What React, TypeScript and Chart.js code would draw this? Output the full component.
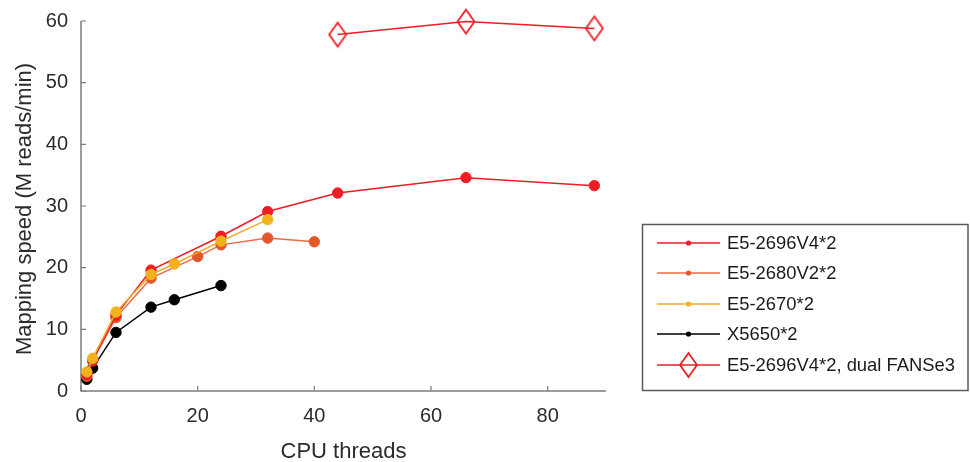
import React, { useEffect, useRef } from 'react';
import { Chart, registerables } from 'chart.js';

Chart.register(...registerables);

// ---- data ----
const threadsE5_2696V4 = [1, 2, 6, 12, 24, 32, 44, 66, 88];
const speedE5_2696V4 = [2.7, 5.0, 12.3, 19.6, 25.1, 29.1, 32.1, 34.6, 33.3];
const threadsE5_2680V2 = [1, 2, 6, 12, 20, 24, 32, 40];
const speedE5_2680V2 = [2.4, 4.9, 11.9, 18.3, 21.8, 23.7, 24.8, 24.2];
const threadsE5_2670 = [1, 2, 6, 12, 16, 24, 32];
const speedE5_2670 = [3.1, 5.3, 12.8, 18.9, 20.6, 24.3, 27.8];
const threadsX5650 = [1, 2, 6, 12, 16, 24];
const speedX5650 = [1.9, 3.7, 9.5, 13.6, 14.8, 17.1];
const threadsDual = [44, 66, 88];
const speedDual = [57.8, 59.9, 58.8];

const seriesLabels = ['E5-2696V4*2', 'E5-2680V2*2', 'E5-2670*2', 'X5650*2', 'E5-2696V4*2, dual FANSe3'];
const xTicks = [0, 20, 40, 60, 80];
const yTicks = [0, 10, 20, 30, 40, 50, 60];
const xTitle = 'CPU threads';
const yTitle = 'Mapping speed (M reads/min)';

const RED = '#ee1c24';
const ORANGE_LINE = '#ee6a40';
const ORANGE_PT = '#e2582a';
const YELLOW_LINE = '#efa92a';
const YELLOW_PT = '#f2b21c';
const BLACK = '#000000';
const AXIS = '#7c7c7c';
const TEXT = '#2b2b2b';
const FONT = "'Liberation Sans', Arial, Helvetica, sans-serif";

const toXY = (xs: number[], ys: number[]) => xs.map((x, i) => ({ x, y: ys[i] }));

function drawDiamond(ctx: CanvasRenderingContext2D, cx: number, cy: number, hw: number, hh: number, color: string) {
  ctx.save();
  ctx.strokeStyle = color;
  ctx.lineWidth = 1.8;
  ctx.beginPath();
  ctx.moveTo(cx, cy - hh);
  ctx.lineTo(cx + hw, cy);
  ctx.lineTo(cx, cy + hh);
  ctx.lineTo(cx - hw, cy);
  ctx.closePath();
  ctx.stroke();
  ctx.restore();
}

function makeDiamondImage(): HTMLCanvasElement {
  const c = document.createElement('canvas');
  c.width = 22;
  c.height = 28;
  const ctx = c.getContext('2d')!;
  drawDiamond(ctx, 11, 14, 8.5, 12, RED);
  return c;
}

const axesPlugin = {
  id: 'matlabAxes',
  beforeDatasetsDraw(chart: any) {
    const { ctx, chartArea, scales } = chart;
    const xs = scales.x;
    const ys = scales.y;
    ctx.save();
    ctx.strokeStyle = AXIS;
    ctx.lineWidth = 1.5;
    ctx.beginPath();
    ctx.moveTo(chartArea.left, chartArea.top);
    ctx.lineTo(chartArea.left, chartArea.bottom);
    ctx.lineTo(chartArea.right, chartArea.bottom);
    ctx.stroke();
    ctx.lineWidth = 1.2;
    ctx.beginPath();
    xTicks.forEach((v) => {
      const px = xs.getPixelForValue(v);
      ctx.moveTo(px, chartArea.bottom);
      ctx.lineTo(px, chartArea.bottom - 5);
    });
    yTicks.forEach((v) => {
      const py = ys.getPixelForValue(v);
      ctx.moveTo(chartArea.left, py);
      ctx.lineTo(chartArea.left + 5, py);
    });
    ctx.stroke();

    // axis titles
    ctx.fillStyle = TEXT;
    ctx.font = `22px ${FONT}`;
    ctx.textAlign = 'center';
    ctx.textBaseline = 'middle';
    ctx.fillText(xTitle, (chartArea.left + chartArea.right) / 2, 452);
    ctx.translate(25, 209);
    ctx.rotate(-Math.PI / 2);
    ctx.fillText(yTitle, 0, 0);
    ctx.restore();
  },
  afterDraw(chart: any) {
    const { ctx } = chart;
    const left = 642.5;
    const top = 224.5;
    const right = 968;
    const bottom = 390.5;
    ctx.save();
    ctx.fillStyle = '#ffffff';
    ctx.fillRect(left, top, right - left, bottom - top);
    ctx.strokeStyle = '#5a5a5a';
    ctx.lineWidth = 1.5;
    ctx.strokeRect(left, top, right - left, bottom - top);
    const rowsY = [243, 273, 304, 334, 365];
    chart.data.datasets.forEach((ds: any, i: number) => {
      const y = rowsY[i];
      ctx.strokeStyle = ds.borderColor;
      ctx.lineWidth = 1.5;
      ctx.beginPath();
      ctx.moveTo(657, y);
      ctx.lineTo(720, y);
      ctx.stroke();
      if (i === 4) {
        drawDiamond(ctx, 688.5, y, 8.5, 12, RED);
      } else {
        ctx.fillStyle = ds.pointBackgroundColor;
        ctx.beginPath();
        ctx.arc(688.5, y, 2.6, 0, Math.PI * 2);
        ctx.fill();
      }
      ctx.fillStyle = '#1a1a1a';
      ctx.font = `18.4px ${FONT}`;
      ctx.textAlign = 'left';
      ctx.textBaseline = 'middle';
      ctx.fillText(ds.label, 727, y + 1);
    });
    ctx.restore();
  },
};

export default function App() {
  const ref = useRef<HTMLCanvasElement | null>(null);

  useEffect(() => {
    document.body.style.margin = '0';
    const canvas = ref.current;
    if (!canvas) return;
    const diamond = makeDiamondImage();
    const pointCommon = { pointRadius: 5.2, pointHoverRadius: 5.2, pointBorderWidth: 1, borderWidth: 1.5, tension: 0, clip: false as any };
    const chart = new Chart(canvas, {
      type: 'line',
      data: {
        datasets: [
          {
            label: seriesLabels[0],
            data: toXY(threadsE5_2696V4, speedE5_2696V4),
            borderColor: RED,
            pointBackgroundColor: RED,
            pointBorderColor: RED,
            order: 2,
            ...pointCommon,
          },
          {
            label: seriesLabels[1],
            data: toXY(threadsE5_2680V2, speedE5_2680V2),
            borderColor: ORANGE_LINE,
            pointBackgroundColor: ORANGE_PT,
            pointBorderColor: ORANGE_PT,
            order: 3,
            ...pointCommon,
          },
          {
            label: seriesLabels[2],
            data: toXY(threadsE5_2670, speedE5_2670),
            borderColor: YELLOW_LINE,
            pointBackgroundColor: YELLOW_PT,
            pointBorderColor: YELLOW_PT,
            order: 1,
            ...pointCommon,
          },
          {
            label: seriesLabels[3],
            data: toXY(threadsX5650, speedX5650),
            borderColor: BLACK,
            pointBackgroundColor: BLACK,
            pointBorderColor: BLACK,
            order: 4,
            ...pointCommon,
          },
          {
            label: seriesLabels[4],
            data: toXY(threadsDual, speedDual),
            borderColor: RED,
            pointBackgroundColor: RED,
            pointBorderColor: RED,
            pointStyle: diamond as any,
            order: 5,
            ...pointCommon,
          },
        ],
      },
      options: {
        animation: false,
        responsive: false,
        events: [],
        layout: { padding: { left: 0, right: 364, top: 21, bottom: 0 } },
        plugins: { legend: { display: false }, tooltip: { enabled: false } },
        scales: {
          x: {
            type: 'linear',
            min: 0,
            max: 90,
            grid: { display: false, drawTicks: false },
            border: { display: false },
            afterBuildTicks: (s: any) => {
              s.ticks = xTicks.map((v) => ({ value: v }));
            },
            afterFit: (s: any) => {
              s.height = 71;
              s.paddingLeft = 0;
              s.paddingRight = 0;
              s.paddingTop = 0;
              s.paddingBottom = 0;
            },
            ticks: {
              color: TEXT,
              font: { size: 20, family: FONT },
              padding: 13,
              maxRotation: 0,
              autoSkip: false,
            },
          },
          y: {
            type: 'linear',
            min: 0,
            max: 60,
            grid: { display: false, drawTicks: false },
            border: { display: false },
            afterBuildTicks: (s: any) => {
              s.ticks = yTicks.map((v) => ({ value: v }));
            },
            afterFit: (s: any) => {
              s.width = 81;
              s.paddingLeft = 0;
              s.paddingRight = 0;
              s.paddingTop = 0;
              s.paddingBottom = 0;
            },
            ticks: {
              color: TEXT,
              font: { size: 20, family: FONT },
              padding: 13,
              autoSkip: false,
            },
          },
        },
      },
      plugins: [axesPlugin],
    });
    return () => chart.destroy();
  }, []);

  return (
    <div style={{ width: 970, height: 462, background: '#ffffff' }}>
      <canvas ref={ref} width={970} height={462} style={{ display: 'block' }} />
    </div>
  );
}
